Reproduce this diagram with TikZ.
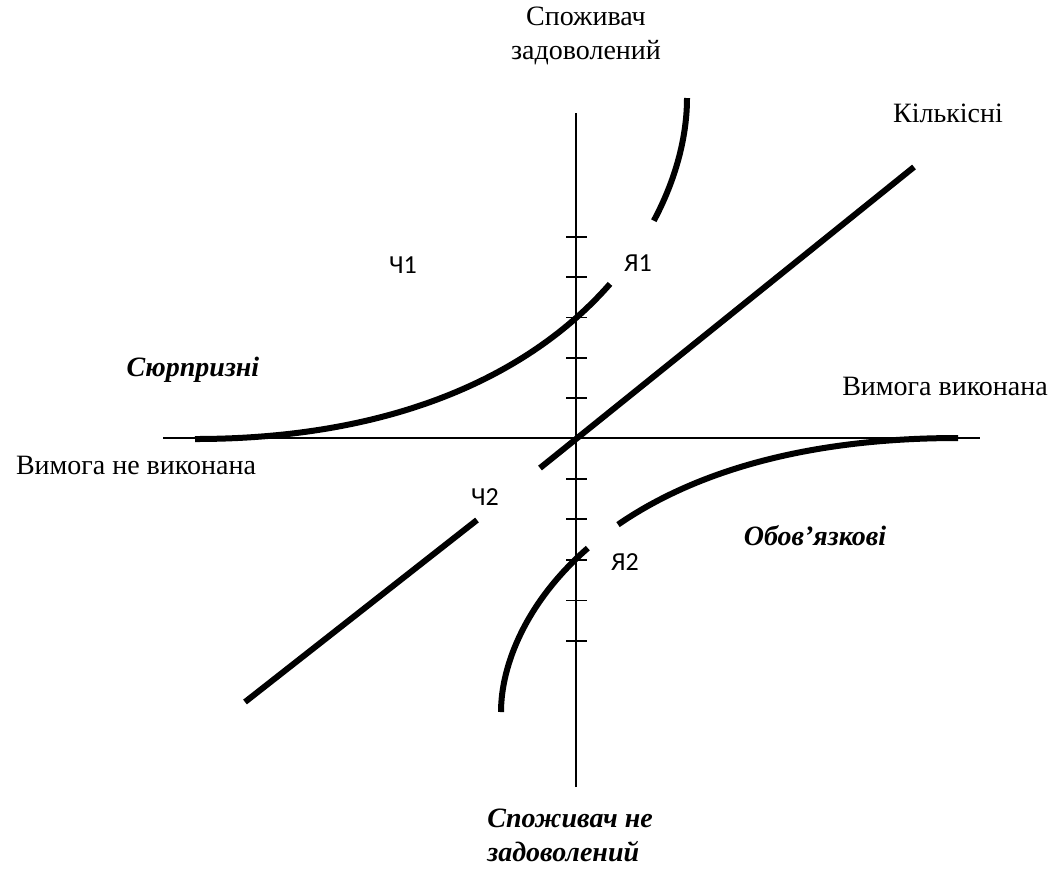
\documentclass[tikz,border=0pt]{standalone}
\usepackage{fontspec}
\setmainfont{Liberation Serif}
\newfontfamily\zonefont{Carlito}

\begin{document}
\begin{tikzpicture}[x=0.5pt,y=-0.5pt,
        axis/.style={line width=0.9pt},
        curve/.style={line width=3pt},
        txt/.style={font=\fontsize{14}{17}\selectfont,inner sep=0pt},
        kind/.style={font=\fontsize{14}{17}\selectfont\bfseries\itshape,inner sep=0pt},
        zone/.style={font=\fontsize{13}{15}\selectfont\zonefont,inner sep=0pt}]
        \useasboundingbox (0,0) rectangle (1053,874);
        % axes
        \coordinate (O) at (576,438);
        \coordinate (xl) at (163,438);
        \coordinate (xr) at (980,438);
        \coordinate (yt) at (576,113);
        \coordinate (yb) at (576,787);
        \draw[axis] (xl) -- (xr);
        \draw[axis] (yb) -- (yt);
        \foreach \k in {1,...,5}{
            \draw[axis] ({566},{438-40.2*\k}) -- ({587},{438-40.2*\k});
            \draw[axis] ({566},{438+40.6*\k}) -- ({587},{438+40.6*\k});
        }
        % attractive curve (split round Ya1)
        \draw[curve] (195,439) .. controls (403.8,439) and (535.9,368.7) .. (610,283.9);
        \draw[curve] (653.8,220.7) .. controls (676.65,177.96) and (687,134.96) .. (687,98);
        % must-be curve (split round Ya2)
        \draw[curve] (958,438) .. controls (799.3,438) and (689.9,475) .. (618,524.6);
        \draw[curve] (587.8,548.1) .. controls (525.74,602.15) and (501,665.47) .. (501,712);
        % one-dimensional line (split round Ch2)
        \draw[curve] (540,468) -- (914,167);
        \draw[curve] (477,520) -- (245,702);
        % labels
        \node[txt,align=center] (sat) at (586,36) {Споживач\\задоволений};
        \node[kind,align=left,anchor=west] (unsat) at (487,835) {Споживач не\\задоволений};
        \node[txt,anchor=base] (quant) at (948,122) {Кількісні};
        \node[txt,anchor=base] (done) at (945,395) {Вимога виконана};
        \node[txt,anchor=base] (notdone) at (136,474) {Вимога не виконана};
        \node[kind,anchor=base] (attr) at (193,376) {Сюрпризні};
        \node[kind,anchor=base] (must) at (815,545) {Обов’язкові};
        \node[zone] (ch1) at (403,265) {Ч1};
        \node[zone] (ch2) at (485,497) {Ч2};
        \node[zone] (ya1) at (638,263) {Я1};
        \node[zone] (ya2) at (625,562) {Я2};
\end{tikzpicture}
\end{document}
